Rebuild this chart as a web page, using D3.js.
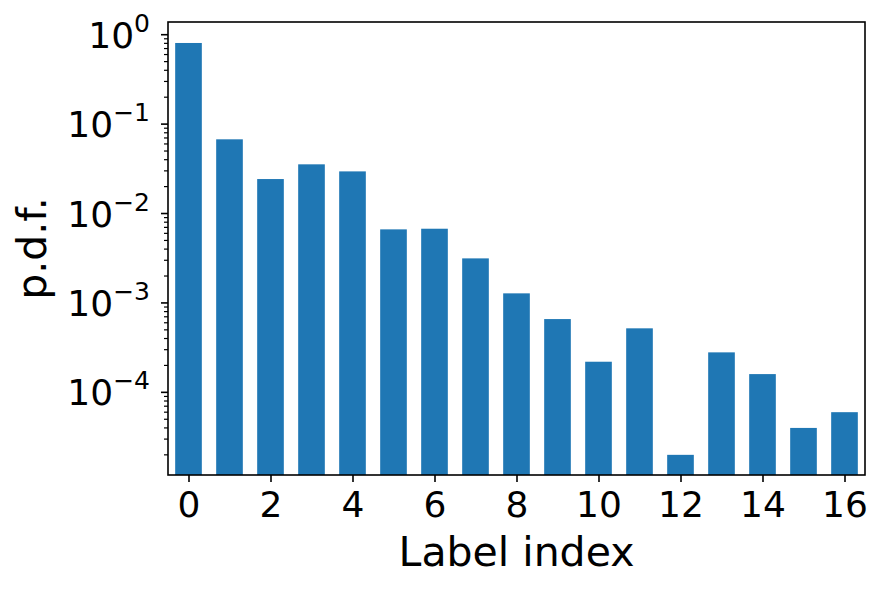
<!DOCTYPE html>
<html>
<head>
<meta charset="utf-8">
<script src="https://cdn.jsdelivr.net/npm/d3@7.9.0/dist/d3.min.js"></script>
<style>
  body { margin: 0; background: #fff; }
  svg { display: block; font-family: 'DejaVu Sans', sans-serif; }
</style>
</head>
<body>
<div id="chart"></div>
<script>
// label index of each bar and its probability density
const labels = [0, 1, 2, 3, 4, 5, 6, 7, 8, 9, 10, 11, 12, 13, 14, 15, 16];
const pdf = [0.808, 0.0676, 0.0243, 0.0355, 0.0296, 0.00665, 0.00676, 0.00315,
  0.00128, 0.00066, 0.00022, 0.00052, 0.0000200, 0.00028, 0.00016, 0.0000400, 0.0000600];

const xTicks = [0, 2, 4, 6, 8, 10, 12, 14, 16];
const yExponents = [0, -1, -2, -3, -4];

const width = 888;
const height = 590;
const margin = { top: 22, right: 23, bottom: 115, left: 168 };
const inner = {
  left: margin.left,
  right: width - margin.right,
  top: margin.top,
  bottom: height - margin.bottom,
};

const svg = d3.select('#chart').append('svg')
  .attr('width', width)
  .attr('height', height);

const x = d3.scaleLinear()
  .domain([-0.5, 16.5])
  .range([inner.left, inner.right]);

const y = d3.scaleLog()
  .domain([1.19e-5, 1.387])
  .range([inner.bottom, inner.top]);

const barW = x(0.65) - x(0);

svg.append('g')
  .selectAll('rect')
  .data(labels)
  .join('rect')
  .attr('x', d => x(d) - barW / 2)
  .attr('width', barW)
  .attr('y', (d, i) => y(pdf[i]))
  .attr('height', (d, i) => inner.bottom - y(pdf[i]))
  .attr('fill', '#1f77b4');

// x axis
const xAxis = svg.append('g')
  .attr('transform', `translate(0,${inner.bottom})`)
  .call(d3.axisBottom(x).tickValues(xTicks).tickSize(7).tickPadding(9).tickFormat(d3.format('d')));
xAxis.select('.domain').remove();
xAxis.selectAll('.tick line').attr('stroke', '#000').attr('stroke-width', 1.6);
xAxis.selectAll('.tick text')
  .attr('font-size', 36)
  .attr('font-family', 'DejaVu Sans')
  .attr('fill', '#000');

// y axis, minor ticks
const [lo, hi] = y.domain();
const minor = [];
for (let e = -5; e <= 0; e++) {
  for (let m = 2; m <= 9; m++) {
    const v = m * Math.pow(10, e);
    if (v >= lo && v <= hi) minor.push(v);
  }
}
svg.append('g')
  .selectAll('line')
  .data(minor)
  .join('line')
  .attr('x1', inner.left - 4)
  .attr('x2', inner.left)
  .attr('y1', d => y(d))
  .attr('y2', d => y(d))
  .attr('stroke', '#000')
  .attr('stroke-width', 1.2);

const yMajor = svg.append('g')
  .selectAll('g')
  .data(yExponents)
  .join('g')
  .attr('transform', d => `translate(0,${y(Math.pow(10, d))})`);

yMajor.append('line')
  .attr('x1', inner.left - 7)
  .attr('x2', inner.left)
  .attr('stroke', '#000')
  .attr('stroke-width', 1.6);

const yText = yMajor.append('text')
  .attr('x', 150)
  .attr('y', 13)
  .attr('text-anchor', 'end')
  .attr('font-size', 36)
  .attr('fill', '#000');
yText.append('tspan').text('10');
yText.append('tspan')
  .attr('font-size', 25)
  .attr('dy', -16)
  .text(d => (d < 0 ? '\u2212' + (-d) : String(d)));

// frame
svg.append('rect')
  .attr('x', inner.left)
  .attr('y', inner.top)
  .attr('width', inner.right - inner.left)
  .attr('height', inner.bottom - inner.top)
  .attr('fill', 'none')
  .attr('stroke', '#000')
  .attr('stroke-width', 1.6);

// axis titles
svg.append('text')
  .attr('x', (inner.left + inner.right) / 2)
  .attr('y', 566)
  .attr('text-anchor', 'middle')
  .attr('font-size', 41)
  .attr('fill', '#000')
  .text('Label index');

svg.append('text')
  .attr('transform', `translate(46,${(inner.top + inner.bottom) / 2}) rotate(-90)`)
  .attr('text-anchor', 'middle')
  .attr('font-size', 41)
  .attr('fill', '#000')
  .text('p.d.f.');
</script>
</body>
</html>
